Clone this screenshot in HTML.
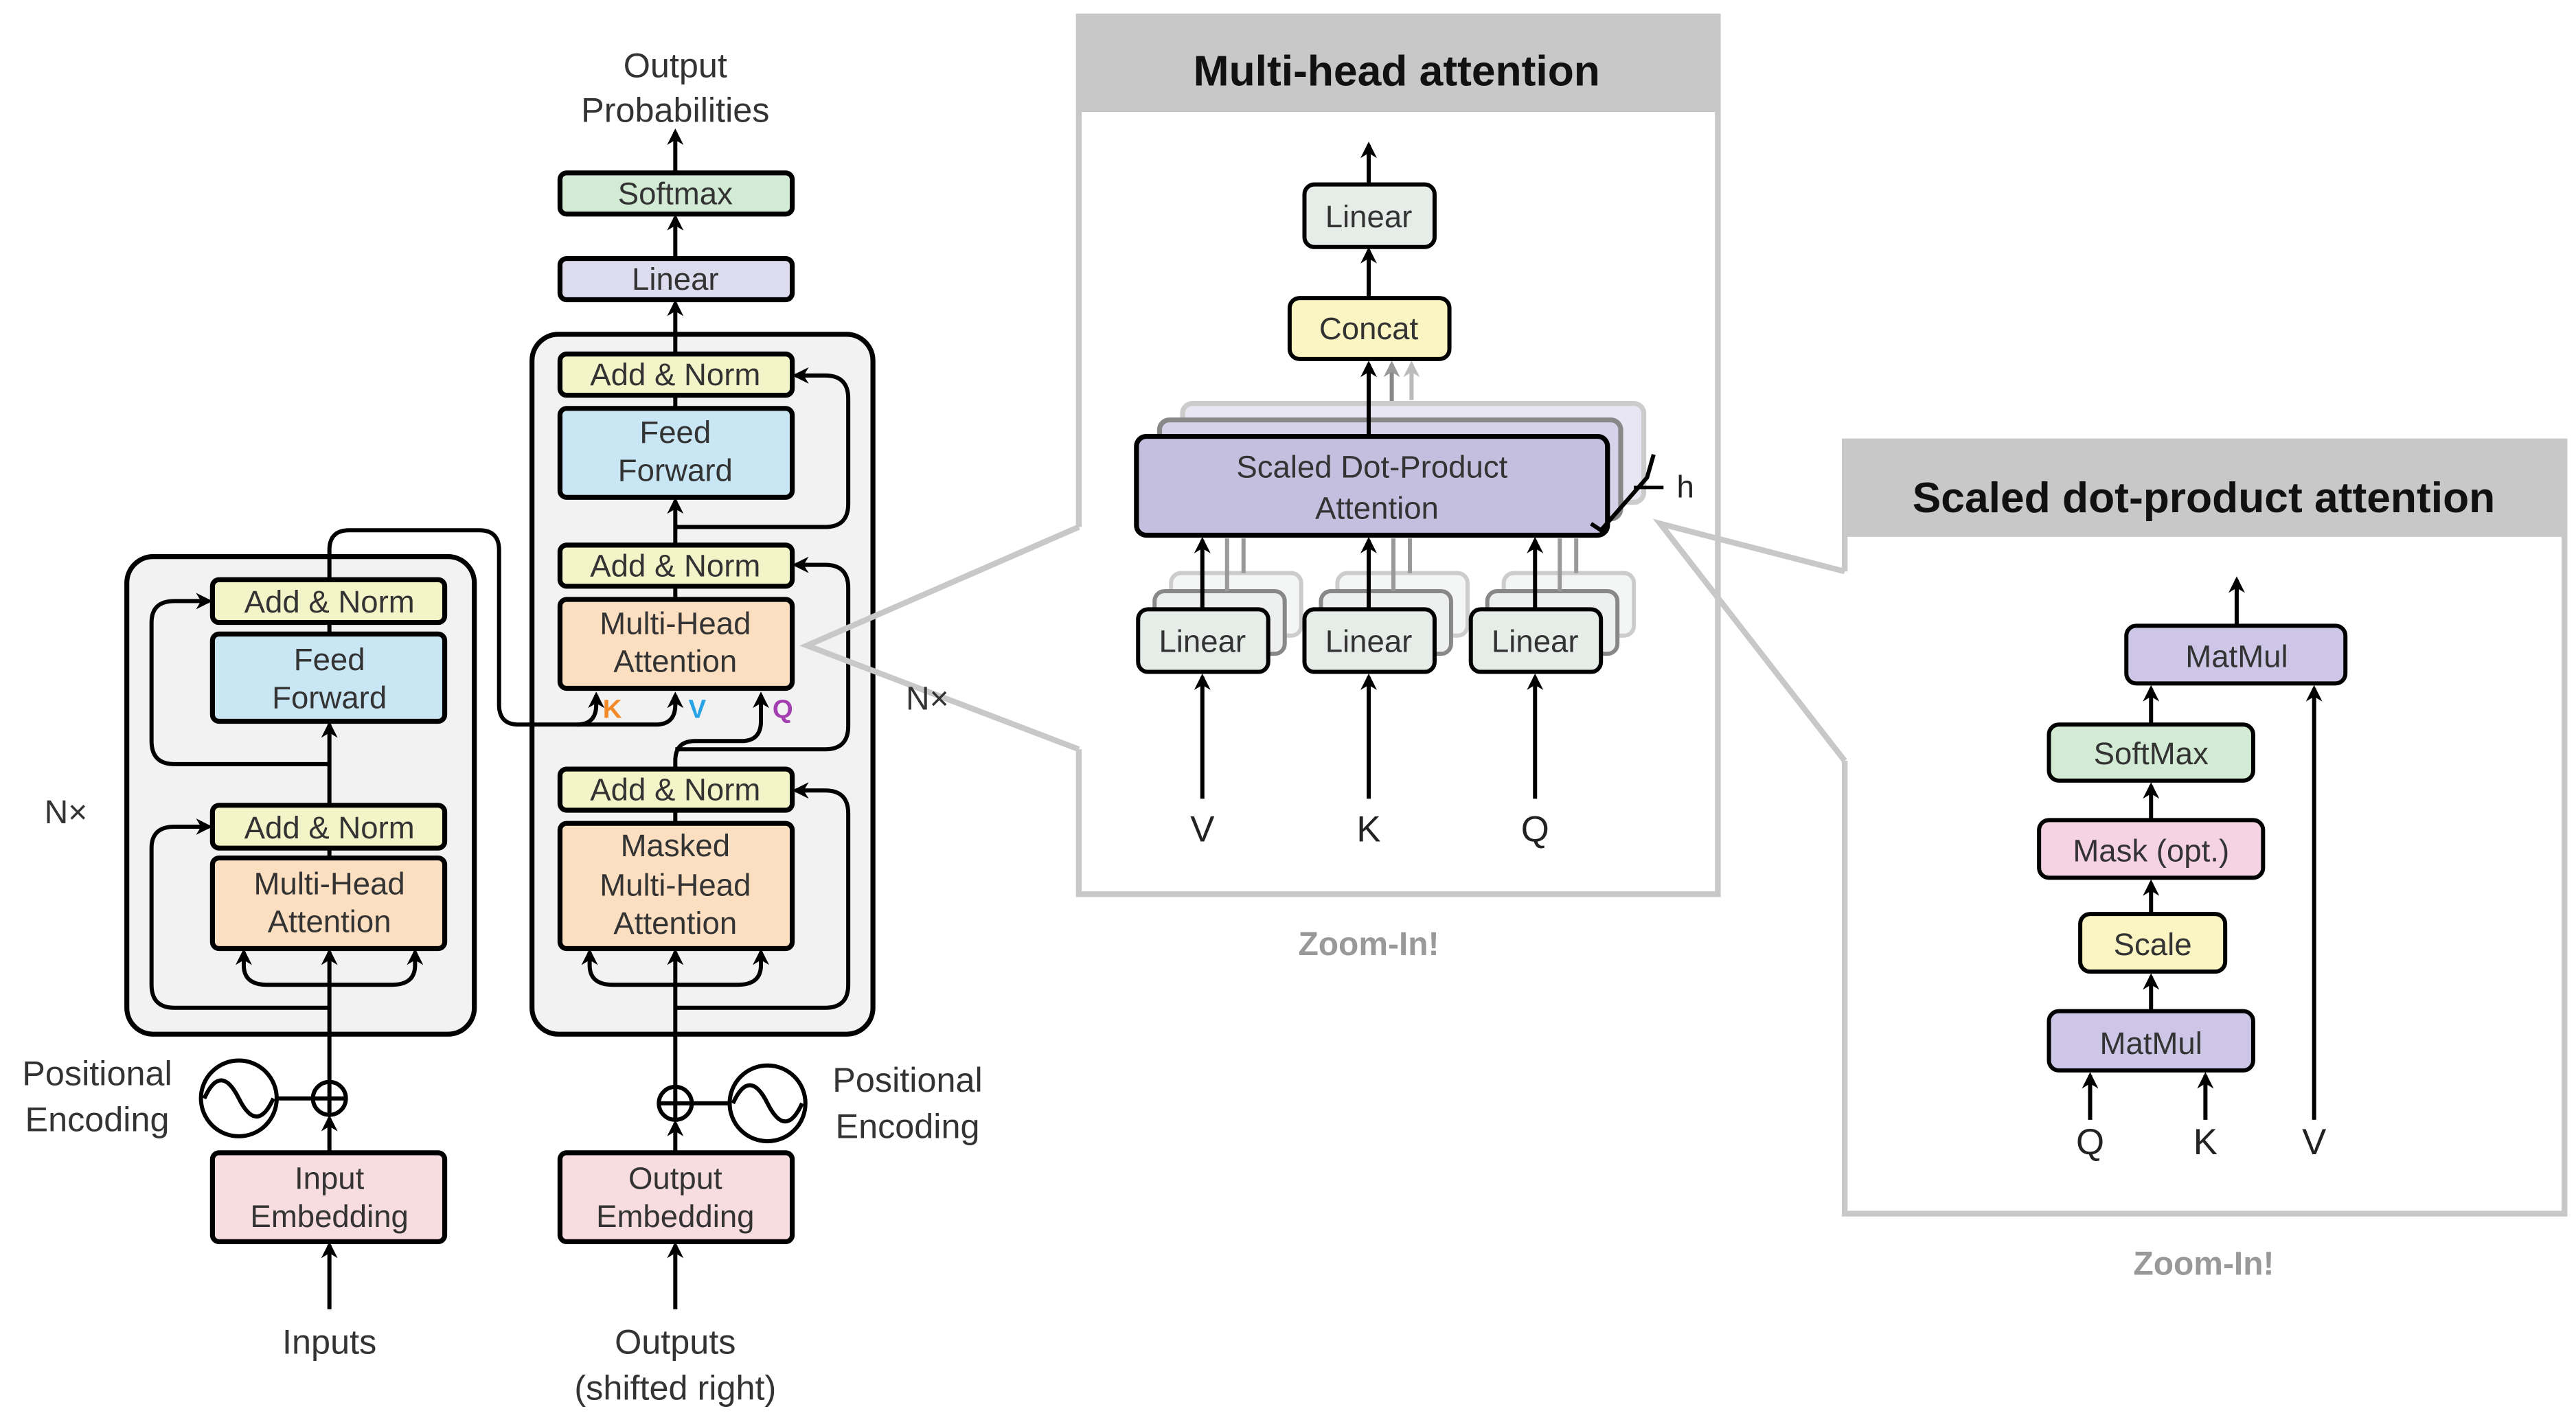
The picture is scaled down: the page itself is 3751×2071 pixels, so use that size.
<!DOCTYPE html>
<html><head><meta charset="utf-8"><style>
html,body{margin:0;padding:0;background:#fff;}
svg{display:block;}
text{font-family:"Liberation Sans",sans-serif;}
</style></head><body>
<svg width="3751" height="2071" viewBox="0 0 1564 863.5" preserveAspectRatio="none" xmlns="http://www.w3.org/2000/svg">
<defs>
<marker id="a" viewBox="0 0 10 10" refX="8" refY="5" markerWidth="4" markerHeight="4" orient="auto"><path d="M0,0 L10,5 L0,10 L3,5 z" fill="#000"/></marker>
<marker id="g" viewBox="0 0 10 10" refX="8" refY="5" markerWidth="4" markerHeight="4" orient="auto"><path d="M0,0 L10,5 L0,10 L3,5 z" fill="#999"/></marker>
<marker id="g2" viewBox="0 0 10 10" refX="8" refY="5" markerWidth="4" markerHeight="4" orient="auto"><path d="M0,0 L10,5 L0,10 L3,5 z" fill="#bbb"/></marker>
</defs>
<rect width="1564" height="863.5" fill="#fff"/>

<!-- gray callout panels -->
<rect x="655" y="10" width="388" height="58" fill="#c8c8c8"/>
<path d="M655,320 V10 H1043 V543 H655 V455" fill="none" stroke="#c8c8c8" stroke-width="3.5"/>
<text x="848" y="52" font-size="26" font-weight="bold" text-anchor="middle" fill="#111">Multi-head attention</text>
<text x="831" y="580" font-size="20" font-weight="bold" text-anchor="middle" fill="#999">Zoom-In!</text>

<rect x="1120" y="268" width="437" height="58" fill="#c8c8c8"/>
<path d="M1120,347 V268 H1557 V737 H1120 V462" fill="none" stroke="#c8c8c8" stroke-width="3.5"/>
<text x="1338" y="311" font-size="26" font-weight="bold" text-anchor="middle" fill="#111">Scaled dot-product attention</text>
<text x="1338" y="774" font-size="20" font-weight="bold" text-anchor="middle" fill="#999">Zoom-In!</text>

<!-- encoder/decoder outer boxes -->
<rect x="77" y="338" width="211" height="290" rx="16" fill="#f2f2f2" stroke="#000" stroke-width="3"/>
<rect x="323" y="203" width="207" height="425" rx="16" fill="#f2f2f2" stroke="#000" stroke-width="3"/>

<g stroke="#000" stroke-width="2.5" fill="none">
<line x1="200" y1="795" x2="200" y2="756" marker-end="url(#a)"/>
<line x1="200" y1="700" x2="200" y2="679" marker-end="url(#a)"/>
<line x1="200" y1="657" x2="200" y2="578" marker-end="url(#a)"/>
<path d="M200,598 H162 Q148,598 148,586 V578" marker-end="url(#a)"/>
<path d="M200,598 H238 Q252,598 252,586 V578" marker-end="url(#a)"/>
<path d="M200,612 H106 Q92,612 92,598 V515 Q92,502 106,502 H127" marker-end="url(#a)"/>
<line x1="200" y1="515" x2="200" y2="521"/>
<line x1="200" y1="489" x2="200" y2="440" marker-end="url(#a)"/>
<path d="M200,464 H106 Q92,464 92,450 V378 Q92,365 106,365 H127" marker-end="url(#a)"/>
<line x1="200" y1="378" x2="200" y2="385"/>
<path d="M200,352 V334 Q200,322 212,322 H291 Q303,322 303,334 V428 Q303,440 315,440 H350 Q362,440 362,428 V422" marker-end="url(#a)"/>
<path d="M350,440 H398 Q410,440 410,428 V422" marker-end="url(#a)"/>
<line x1="410" y1="795" x2="410" y2="756" marker-end="url(#a)"/>
<line x1="410" y1="700" x2="410" y2="682" marker-end="url(#a)"/>
<line x1="410" y1="660" x2="410" y2="578" marker-end="url(#a)"/>
<path d="M410,598 H372 Q358,598 358,586 V578" marker-end="url(#a)"/>
<path d="M410,598 H448 Q462,598 462,586 V578" marker-end="url(#a)"/>
<path d="M410,612 H501 Q515,612 515,598 V494 Q515,480 501,480 H483" marker-end="url(#a)"/>
<line x1="410" y1="492" x2="410" y2="500"/>
<path d="M410,467 V462 Q410,450 422,450 H450 Q462,450 462,438 V422" marker-end="url(#a)"/>
<path d="M410,455 H501 Q515,455 515,441 V357 Q515,343 501,343 H483" marker-end="url(#a)"/>
<line x1="410" y1="356" x2="410" y2="364"/>
<line x1="410" y1="331" x2="410" y2="304" marker-end="url(#a)"/>
<path d="M410,320 H501 Q515,320 515,306 V242 Q515,228 501,228 H483" marker-end="url(#a)"/>
<line x1="410" y1="240" x2="410" y2="248"/>
<line x1="410" y1="215" x2="410" y2="184" marker-end="url(#a)"/>
<line x1="410" y1="157" x2="410" y2="132" marker-end="url(#a)"/>
<line x1="410" y1="105" x2="410" y2="80" marker-end="url(#a)"/>
<circle cx="145" cy="667" r="23"/>
<path d="M124,667 Q134,645 145,667 Q156,689 166,667"/>
<line x1="168" y1="667" x2="190" y2="667"/>
<circle cx="200" cy="667" r="10"/>
<line x1="190" y1="667" x2="210" y2="667"/><line x1="200" y1="657" x2="200" y2="677"/>
<circle cx="466" cy="670" r="23"/>
<path d="M445,670 Q455,648 466,670 Q477,692 487,670"/>
<line x1="420" y1="670" x2="443" y2="670"/>
<circle cx="410" cy="670" r="10"/>
<line x1="400" y1="670" x2="420" y2="670"/><line x1="410" y1="660" x2="410" y2="680"/>
</g>

<g stroke="#000" stroke-width="3">
<rect x="129" y="352" width="141" height="26" rx="4" fill="#f3f4c8"/>
<rect x="129" y="385" width="141" height="53" rx="4" fill="#c9e6f4"/>
<rect x="129" y="489" width="141" height="26" rx="4" fill="#f3f4c8"/>
<rect x="129" y="521" width="141" height="55" rx="4" fill="#fbdfc0"/>
<rect x="129" y="700" width="141" height="54" rx="4" fill="#f7dde0"/>
<rect x="340" y="215" width="141" height="25" rx="4" fill="#f3f4c8"/>
<rect x="340" y="248" width="141" height="54" rx="4" fill="#c9e6f4"/>
<rect x="340" y="331" width="141" height="25" rx="4" fill="#f3f4c8"/>
<rect x="340" y="364" width="141" height="54" rx="4" fill="#fbdfc0"/>
<rect x="340" y="467" width="141" height="25" rx="4" fill="#f3f4c8"/>
<rect x="340" y="500" width="141" height="76" rx="4" fill="#fbdfc0"/>
<rect x="340" y="700" width="141" height="54" rx="4" fill="#f7dde0"/>
<rect x="340" y="157" width="141" height="25" rx="4" fill="#dcdcee"/>
<rect x="340" y="105" width="141" height="25" rx="4" fill="#d3ebd5"/>
</g>
<!-- callout lines on top -->
<path d="M655,320 L490,392 L655,455" fill="none" stroke="#c8c8c8" stroke-width="3.5"/>
<path d="M1120,347 L1008,318 L1120,462" fill="none" stroke="#c8c8c8" stroke-width="3.5"/>
<g font-size="19" fill="#333" text-anchor="middle">
<text x="200" y="372">Add &amp; Norm</text>
<text x="200" y="407">Feed</text><text x="200" y="430">Forward</text>
<text x="200" y="509">Add &amp; Norm</text>
<text x="200" y="543">Multi-Head</text><text x="200" y="566">Attention</text>
<text x="200" y="722">Input</text><text x="200" y="745">Embedding</text>
<text x="410" y="234">Add &amp; Norm</text>
<text x="410" y="269">Feed</text><text x="410" y="292">Forward</text>
<text x="410" y="350">Add &amp; Norm</text>
<text x="410" y="385">Multi-Head</text><text x="410" y="408">Attention</text>
<text x="410" y="486">Add &amp; Norm</text>
<text x="410" y="520">Masked</text><text x="410" y="544">Multi-Head</text><text x="410" y="567">Attention</text>
<text x="410" y="722">Output</text><text x="410" y="745">Embedding</text>
<text x="410" y="176">Linear</text>
<text x="410" y="124">Softmax</text>
<text x="410" y="47" font-size="21">Output</text>
<text x="410" y="74" font-size="21">Probabilities</text>
<text x="200" y="822" font-size="21">Inputs</text>
<text x="410" y="822" font-size="21">Outputs</text>
<text x="410" y="850" font-size="21">(shifted right)</text>
<text x="59" y="659" font-size="21">Positional</text>
<text x="59" y="687" font-size="21">Encoding</text>
<text x="551" y="663" font-size="21">Positional</text>
<text x="551" y="691" font-size="21">Encoding</text>
<text x="40" y="500" font-size="20">N×</text>
<text x="563" y="431" font-size="20">N×</text>
</g>
<g font-size="16" font-weight="bold">
<text x="366" y="436" fill="#f28a2a">K</text>
<text x="418" y="436" fill="#2aa3e6">V</text>
<text x="469" y="436" fill="#a33fb0">Q</text>
</g>

<g stroke-width="2.5" fill="none">
<line x1="831" y1="112" x2="831" y2="88" stroke="#000" marker-end="url(#a)"/>
<line x1="831" y1="181" x2="831" y2="152" stroke="#000" marker-end="url(#a)"/>
<line x1="857" y1="243" x2="857" y2="221" stroke="#bbb" marker-end="url(#g2)"/>
<line x1="845" y1="250" x2="845" y2="221" stroke="#888" marker-end="url(#g)"/>
</g>
<g stroke-width="3">
<rect x="718" y="245" width="280" height="60" rx="6" fill="#e8e6f2" stroke="#ccc"/>
<rect x="704" y="255" width="280" height="60" rx="6" fill="#d6d2ea" stroke="#888"/>
<rect x="690" y="265" width="286" height="60" rx="6" fill="#c4bfdf" stroke="#000"/>
</g>
<line x1="831" y1="265" x2="831" y2="221" stroke="#000" stroke-width="2.5" marker-end="url(#a)"/>
<g font-size="19" fill="#333" text-anchor="middle">
<text x="833" y="290">Scaled Dot-Product</text>
<text x="836" y="315">Attention</text>
</g>
<path d="M966,318 L972,322 L1000,290 L1004,276" stroke="#000" stroke-width="2.5" fill="none"/>
<line x1="992" y1="296" x2="1010" y2="296" stroke="#000" stroke-width="2"/>
<text x="1018" y="302" font-size="19" fill="#222">h</text>
<g stroke-width="2.5">
<rect x="792" y="112" width="79" height="38" rx="6" fill="#e6ece8" stroke="#000"/>
<rect x="783" y="181" width="97" height="37" rx="6" fill="#fbf5c3" stroke="#000"/>
</g>
<g font-size="19" fill="#333" text-anchor="middle">
<text x="831" y="138">Linear</text>
<text x="831" y="206">Concat</text>
</g>
<g>
<g stroke-width="2.5">
<rect x="711" y="348" width="79" height="38" rx="6" fill="#f4f6f5" stroke="#ccc"/>
<rect x="701" y="359" width="79" height="38" rx="6" fill="#edf0ee" stroke="#888"/>
<rect x="812" y="348" width="79" height="38" rx="6" fill="#f4f6f5" stroke="#ccc"/>
<rect x="802" y="359" width="79" height="38" rx="6" fill="#edf0ee" stroke="#888"/>
<rect x="913" y="348" width="79" height="38" rx="6" fill="#f4f6f5" stroke="#ccc"/>
<rect x="903" y="359" width="79" height="38" rx="6" fill="#edf0ee" stroke="#888"/>
</g>
<g stroke="#999" stroke-width="2.5">
<line x1="745" y1="359" x2="745" y2="327"/><line x1="755" y1="348" x2="755" y2="327"/>
<line x1="846" y1="359" x2="846" y2="327"/><line x1="856" y1="348" x2="856" y2="327"/>
<line x1="947" y1="359" x2="947" y2="327"/><line x1="957" y1="348" x2="957" y2="327"/>
</g>
<g stroke-width="2.5" stroke="#000">
<rect x="691" y="370" width="79" height="38" rx="6" fill="#e6ece8"/>
<rect x="792" y="370" width="79" height="38" rx="6" fill="#e6ece8"/>
<rect x="893" y="370" width="79" height="38" rx="6" fill="#e6ece8"/>
<line x1="730" y1="370" x2="730" y2="328" marker-end="url(#a)"/>
<line x1="831" y1="370" x2="831" y2="328" marker-end="url(#a)"/>
<line x1="932" y1="370" x2="932" y2="328" marker-end="url(#a)"/>
<line x1="730" y1="485" x2="730" y2="411" marker-end="url(#a)"/>
<line x1="831" y1="485" x2="831" y2="411" marker-end="url(#a)"/>
<line x1="932" y1="485" x2="932" y2="411" marker-end="url(#a)"/>
</g>
<g font-size="19" fill="#333" text-anchor="middle">
<text x="730" y="396">Linear</text><text x="831" y="396">Linear</text><text x="932" y="396">Linear</text>
</g>
<g font-size="22" fill="#222" text-anchor="middle">
<text x="730" y="511">V</text><text x="831" y="511">K</text><text x="932" y="511">Q</text>
</g>
</g>

<g stroke="#000" stroke-width="2.5">
<line x1="1358" y1="380" x2="1358" y2="352" marker-end="url(#a)"/>
<line x1="1306" y1="440" x2="1306" y2="418" marker-end="url(#a)"/>
<line x1="1306" y1="498" x2="1306" y2="477" marker-end="url(#a)"/>
<line x1="1306" y1="555" x2="1306" y2="536" marker-end="url(#a)"/>
<line x1="1306" y1="614" x2="1306" y2="593" marker-end="url(#a)"/>
<line x1="1269" y1="680" x2="1269" y2="653" marker-end="url(#a)"/>
<line x1="1339" y1="680" x2="1339" y2="653" marker-end="url(#a)"/>
<line x1="1405" y1="680" x2="1405" y2="418" marker-end="url(#a)"/>
<rect x="1291" y="380" width="133" height="35" rx="6" fill="#cdc6e6"/>
<rect x="1244" y="440" width="124" height="34" rx="6" fill="#d3ebd5"/>
<rect x="1238" y="498" width="136" height="35" rx="6" fill="#f5d3e3"/>
<rect x="1263" y="555" width="88" height="35" rx="6" fill="#fbf5c3"/>
<rect x="1244" y="614" width="124" height="36" rx="6" fill="#cdc6e6"/>
</g>
<g font-size="19" fill="#333" text-anchor="middle">
<text x="1358" y="405">MatMul</text>
<text x="1306" y="464">SoftMax</text>
<text x="1306" y="523">Mask (opt.)</text>
<text x="1307" y="580">Scale</text>
<text x="1306" y="640">MatMul</text>
</g>
<g font-size="22" fill="#222" text-anchor="middle">
<text x="1269" y="701">Q</text><text x="1339" y="701">K</text><text x="1405" y="701">V</text>
</g>
</svg>
</body></html>
